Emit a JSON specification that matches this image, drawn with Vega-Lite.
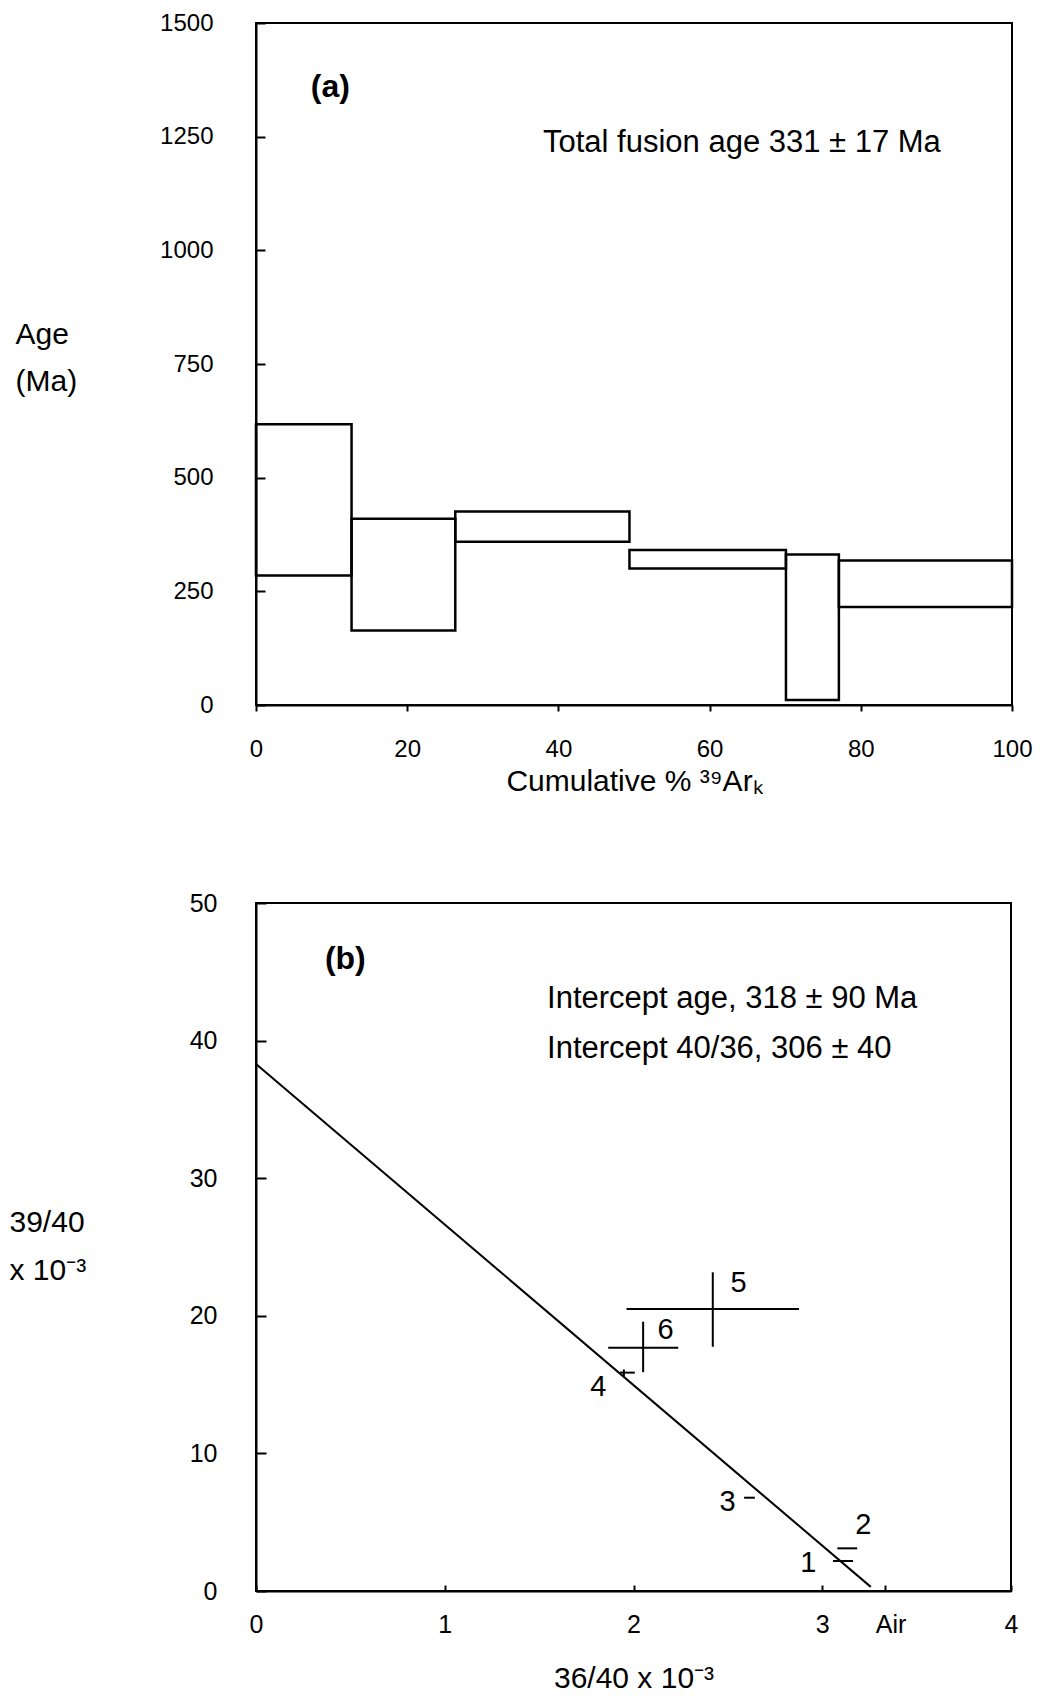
{
  "$schema": "https://vega.github.io/schema/vega-lite/v6.json",
  "background": "white",
  "padding": {"left": 8, "top": 10, "right": 0, "bottom": 0},
  "spacing": 93,
  "config": {
    "font": "Liberation Sans",
    "view": {"stroke": "black", "strokeWidth": 2},
    "axis": {
      "domainColor": "black", "domainWidth": 2,
      "tickColor": "black", "tickWidth": 2,
      "labelColor": "black", "titleColor": "black",
      "grid": false, "labelFlush": false, "labelOverlap": false,
      "labelFont": "Liberation Sans", "titleFont": "Liberation Sans",
      "titleFontWeight": "normal"
    }
  },
  "vconcat": [
    {
      "width": 756,
      "height": 682,
      "layer": [
        {
          "data": {"values": [
            {"step": 1, "x1": 0, "x2": 12.64, "top": 617.6, "bottom": 285},
            {"step": 2, "x1": 12.64, "x2": 26.36, "top": 409.6, "bottom": 164},
            {"step": 3, "x1": 26.36, "x2": 49.4, "top": 425.7, "bottom": 358.8},
            {"step": 4, "x1": 49.4, "x2": 70.1, "top": 341, "bottom": 300},
            {"step": 5, "x1": 70.1, "x2": 77.1, "top": 331, "bottom": 11},
            {"step": 6, "x1": 77.1, "x2": 100, "top": 317.6, "bottom": 215.4}
          ]},
          "mark": {"type": "rect", "fill": "white", "fillOpacity": 0, "stroke": "black", "strokeWidth": 2.5},
          "encoding": {
            "x": {"field": "x1", "type": "quantitative",
              "scale": {"domain": [0, 100], "nice": false},
              "axis": {"title": "Cumulative % ³⁹Arₖ", "values": [0, 20, 40, 60, 80, 100], "format": "d",
                "labelOverlap": false,
                "tickSize": 6, "labelPadding": 26, "labelFontSize": 24, "titleFontSize": 30,
                "titleY": 76, "titleBaseline": "middle"}},
            "x2": {"field": "x2"},
            "y": {"field": "top", "type": "quantitative",
              "scale": {"domain": [0, 1500], "nice": false},
              "axis": {"title": ["Age", "(Ma)"], "values": [0, 250, 500, 750, 1000, 1250, 1500], "format": "d",
                "labelOverlap": false,
                "tickSize": -9, "labelPadding": 52, "labelFontSize": 24, "titleFontSize": 30,
                "titleAngle": 0, "titleAlign": "left", "titleBaseline": "middle",
                "titleX": -241, "titleY": 311, "titleLineHeight": 47}},
            "y2": {"field": "bottom"}
          }
        },
        {
          "data": {"values": [{"label": "(a)", "x": 7.24, "y": 1359}]},
          "mark": {"type": "text", "align": "left", "baseline": "middle", "fontSize": 32, "fontWeight": "bold", "color": "black"},
          "encoding": {
            "x": {"field": "x", "type": "quantitative", "scale": {"domain": [0, 100], "nice": false}},
            "y": {"field": "y", "type": "quantitative", "scale": {"domain": [0, 1500], "nice": false}},
            "text": {"field": "label"}
          }
        },
        {
          "data": {"values": [{"label": "Total fusion age 331 ± 17 Ma", "x": 37.96, "y": 1237}]},
          "mark": {"type": "text", "align": "left", "baseline": "middle", "fontSize": 31, "color": "black"},
          "encoding": {
            "x": {"field": "x", "type": "quantitative", "scale": {"domain": [0, 100], "nice": false}},
            "y": {"field": "y", "type": "quantitative", "scale": {"domain": [0, 1500], "nice": false}},
            "text": {"field": "label"}
          }
        }
      ]
    },
    {
      "width": 755,
      "height": 688,
      "layer": [
        {
          "data": {"values": [{"x": 0, "y": 38.3}, {"x": 3.257, "y": 0.3}]},
          "mark": {"type": "line", "color": "black", "strokeWidth": 2},
          "encoding": {
            "x": {"field": "x", "type": "quantitative",
              "scale": {"domain": [0, 4], "nice": false},
              "axis": {"title": "36/40 x 10⁻³", "values": [0, 1, 2, 3, 3.33, 4],
                "labelOverlap": false, "tickCount": 10,
                "labelExpr": "datum.value == 3.33 ? 'Air' : format(datum.value, 'd')",
                "labelOffset": {"condition": {"test": "datum.value == 3.33", "value": 6}, "value": 0},
                "tickSize": -6, "labelPadding": 27, "labelFontSize": 25, "titleFontSize": 30,
                "titleY": 87, "titleBaseline": "middle"}},
            "y": {"field": "y", "type": "quantitative",
              "scale": {"domain": [0, 50], "nice": false},
              "axis": {"title": ["39/40", "x 10⁻³"], "values": [0, 10, 20, 30, 40, 50], "format": "d",
                "labelOverlap": false,
                "tickSize": -10, "labelPadding": 49, "labelFontSize": 25, "titleFontSize": 30,
                "titleAngle": 0, "titleAlign": "left", "titleBaseline": "middle",
                "titleX": -247, "titleY": 319, "titleLineHeight": 48}}
          }
        },
        {
          "data": {"name": "steps"},
          "mark": {"type": "rule", "color": "black", "strokeWidth": 2},
          "encoding": {
            "x": {"field": "xlo", "type": "quantitative", "scale": {"domain": [0, 4], "nice": false}},
            "x2": {"field": "xhi"},
            "y": {"field": "y", "type": "quantitative", "scale": {"domain": [0, 50], "nice": false}}
          }
        },
        {
          "data": {"name": "steps"},
          "transform": [{"filter": "isValid(datum.ylo)"}],
          "mark": {"type": "rule", "color": "black", "strokeWidth": 2},
          "encoding": {
            "x": {"field": "x", "type": "quantitative", "scale": {"domain": [0, 4], "nice": false}},
            "y": {"field": "ylo", "type": "quantitative", "scale": {"domain": [0, 50], "nice": false}},
            "y2": {"field": "yhi"}
          }
        },
        {
          "data": {"name": "steps"},
          "mark": {"type": "text", "align": "center", "baseline": "middle", "fontSize": 29, "color": "black"},
          "encoding": {
            "x": {"field": "lx", "type": "quantitative", "scale": {"domain": [0, 4], "nice": false}},
            "y": {"field": "ly", "type": "quantitative", "scale": {"domain": [0, 50], "nice": false}},
            "text": {"field": "id"}
          }
        },
        {
          "data": {"values": [{"label": "(b)", "x": 0.365, "y": 45.95}]},
          "mark": {"type": "text", "align": "left", "baseline": "middle", "fontSize": 32, "fontWeight": "bold", "color": "black"},
          "encoding": {
            "x": {"field": "x", "type": "quantitative", "scale": {"domain": [0, 4], "nice": false}},
            "y": {"field": "y", "type": "quantitative", "scale": {"domain": [0, 50], "nice": false}},
            "text": {"field": "label"}
          }
        },
        {
          "data": {"values": [
            {"label": "Intercept age, 318 ± 90 Ma", "x": 1.542, "y": 43.0},
            {"label": "Intercept 40/36, 306 ± 40", "x": 1.542, "y": 39.4}
          ]},
          "mark": {"type": "text", "align": "left", "baseline": "middle", "fontSize": 31, "color": "black"},
          "encoding": {
            "x": {"field": "x", "type": "quantitative", "scale": {"domain": [0, 4], "nice": false}},
            "y": {"field": "y", "type": "quantitative", "scale": {"domain": [0, 50], "nice": false}},
            "text": {"field": "label"}
          }
        }
      ]
    }
  ],
  "datasets": {
    "steps": [
      {"id": "1", "x": 3.11, "y": 2.18, "xlo": 3.057, "xhi": 3.163, "lx": 2.926, "ly": 2.0},
      {"id": "2", "x": 3.13, "y": 3.1, "xlo": 3.08, "xhi": 3.185, "lx": 3.217, "ly": 4.8},
      {"id": "3", "x": 2.615, "y": 6.78, "xlo": 2.586, "xhi": 2.643, "lx": 2.498, "ly": 6.49},
      {"id": "4", "x": 1.949, "y": 15.87, "xlo": 1.928, "xhi": 2.007, "ylo": 15.57, "yhi": 16.1, "lx": 1.813, "ly": 14.85},
      {"id": "5", "x": 2.42, "y": 20.5, "xlo": 1.963, "xhi": 2.877, "ylo": 17.75, "yhi": 23.16, "lx": 2.556, "ly": 22.4},
      {"id": "6", "x": 2.051, "y": 17.68, "xlo": 1.866, "xhi": 2.237, "ylo": 15.9, "yhi": 19.57, "lx": 2.17, "ly": 18.97}
    ]
  }
}
